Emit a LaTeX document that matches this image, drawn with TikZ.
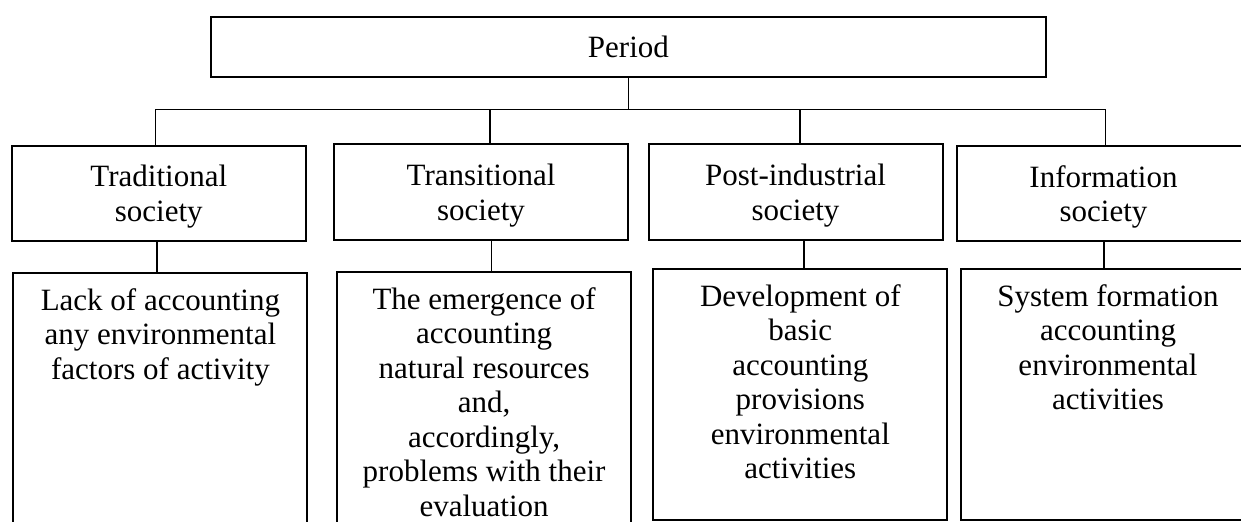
\documentclass[tikz,border=0pt]{standalone}
\usepackage{fontspec}
\setmainfont{Liberation Serif}
\tikzset{
  box/.style={draw,line width=1pt,inner sep=0pt,align=center,
    font=\fontsize{15.5}{17.25}\selectfont},
  soc/.style={box,minimum width=147pt,minimum height=47.7pt,text depth=0pt},
  desc/.style={draw,line width=1pt,minimum width=147pt},
  note/.style={inner sep=0pt,align=center,anchor=north,
    font=\fontsize{15.5}{17.25}\selectfont},
  wire/.style={line width=0.6pt}
}
\begin{document}
\begin{tikzpicture}[x=0.5pt,y=-0.5pt]
\useasboundingbox (0,0) rectangle (1241,521);
\clip (0,0) rectangle (1241,521);
\node[box,minimum width=417.6pt,minimum height=29.7pt] (P) at (628.4,47) {Period};
\node[soc] (S1) at (158.8,193.3) {Traditional\\society};
\node[soc] (S2) at (481,192) {Transitional\\society};
\node[soc] (S3) at (795.5,192) {Post-industrial\\society};
\node[soc] (S4) at (1103.5,193.7) {Information\\society};
\node[desc,minimum height=133.3pt] (D1) at (160.4,406.6) {};
\node[desc,minimum height=134pt] (D2) at (484.1,406) {};
\node[desc,minimum height=125.25pt] (D3) at (800.3,394.25) {};
\node[desc,minimum height=125.25pt] (D4) at (1108,394.25) {};
\node[note] (t1) at ([yshift=-7.9pt]D1.north) {Lack of accounting\\any environmental\\factors of activity};
\node[note] (t2) at ([yshift=-7.9pt]D2.north) {The emergence of\\accounting\\natural resources\\and,\\accordingly,\\problems with their\\evaluation};
\node[note] (t3) at ([yshift=-7.9pt]D3.north) {Development of\\basic\\accounting\\provisions\\environmental\\activities};
\node[note] (t4) at ([yshift=-7.9pt]D4.north) {System formation\\accounting\\environmental\\activities};
% bus under the period box
\coordinate (A1) at (155.4,109.3);
\coordinate (A2) at (490,109.3);
\coordinate (A3) at (800,109.3);
\coordinate (A4) at (1105.6,109.3);
\coordinate (B1) at (157,0);
\coordinate (B2) at (491.5,0);
\coordinate (B3) at (804,0);
\coordinate (B4) at (1104,0);
\draw[wire] (P.south) -- (P.south |- A1);
\draw[wire] (A1) -- (A4);
\draw[wire] (A1) -- (A1 |- S1.north);
\draw[wire] (A2) -- (A2 |- S2.north);
\draw[wire] (A3) -- (A3 |- S3.north);
\draw[wire] (A4) -- (A4 |- S4.north);
\draw[wire] (B1 |- S1.south) -- (B1 |- D1.north);
\draw[wire] (B2 |- S2.south) -- (B2 |- D2.north);
\draw[wire] (B3 |- S3.south) -- (B3 |- D3.north);
\draw[wire] (B4 |- S4.south) -- (B4 |- D4.north);
\end{tikzpicture}
\end{document}
